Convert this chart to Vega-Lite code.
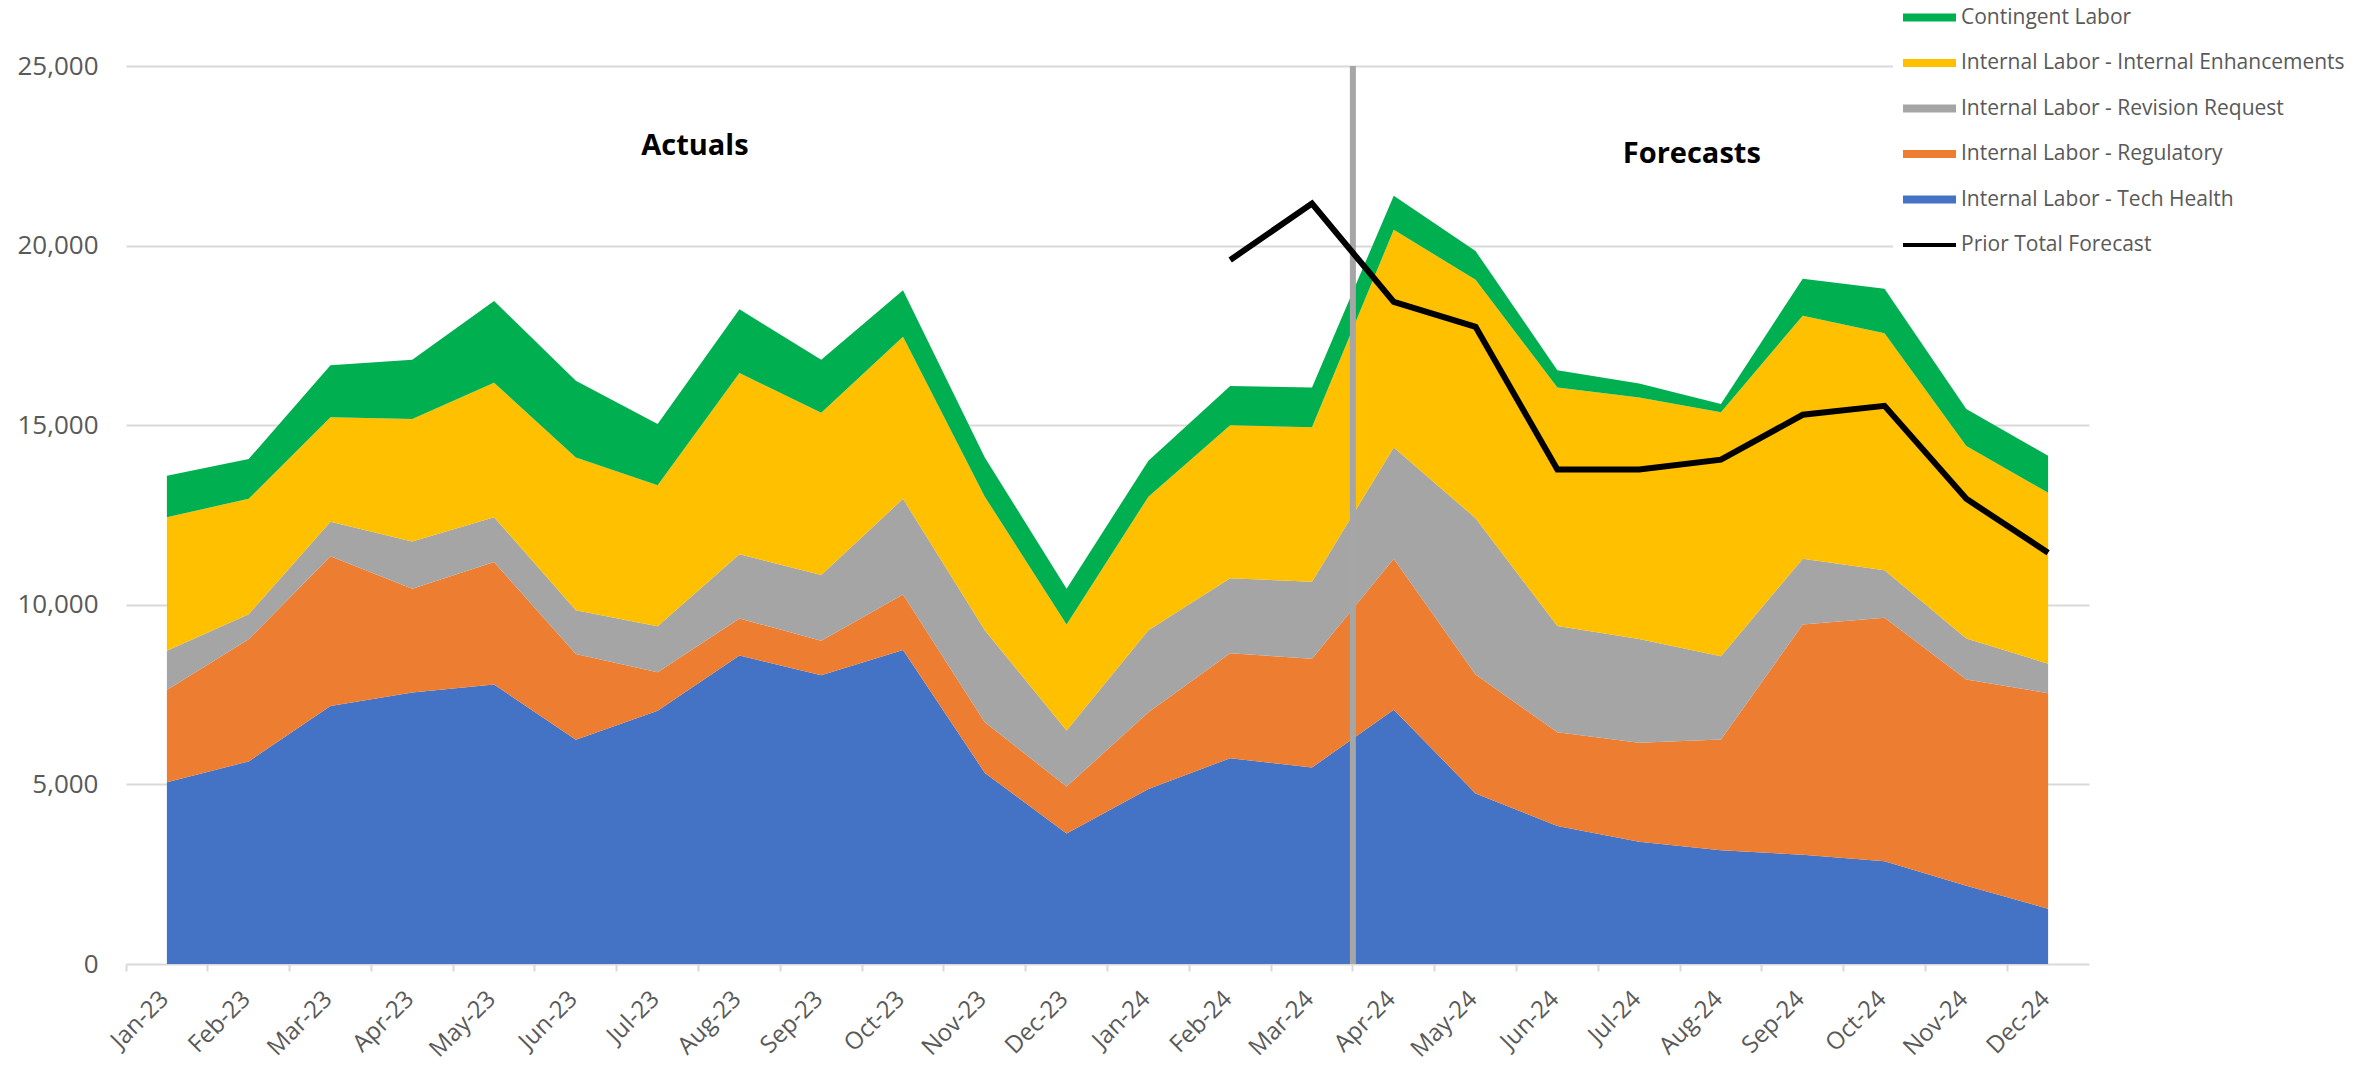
{
  "$schema": "https://vega.github.io/schema/vega-lite/v6.json",
  "width": 1936,
  "height": 898,
  "autosize": {"type": "none"},
  "padding": {"left": 126, "top": 66, "right": 301, "bottom": 106},
  "background": "white",
  "config": {"view": {"stroke": null}, "font": "Open Sans"},
  "datasets": {
    "areas": [
      {"month": "Jan-23", "series": "Internal Labor - Tech Health", "value": 5060},
      {"month": "Jan-23", "series": "Internal Labor - Regulatory", "value": 2570},
      {"month": "Jan-23", "series": "Internal Labor - Revision Request", "value": 1090},
      {"month": "Jan-23", "series": "Internal Labor - Internal Enhancements", "value": 3720},
      {"month": "Jan-23", "series": "Contingent Labor", "value": 1150},
      {"month": "Feb-23", "series": "Internal Labor - Tech Health", "value": 5640},
      {"month": "Feb-23", "series": "Internal Labor - Regulatory", "value": 3400},
      {"month": "Feb-23", "series": "Internal Labor - Revision Request", "value": 700},
      {"month": "Feb-23", "series": "Internal Labor - Internal Enhancements", "value": 3210},
      {"month": "Feb-23", "series": "Contingent Labor", "value": 1110},
      {"month": "Mar-23", "series": "Internal Labor - Tech Health", "value": 7180},
      {"month": "Mar-23", "series": "Internal Labor - Regulatory", "value": 4170},
      {"month": "Mar-23", "series": "Internal Labor - Revision Request", "value": 960},
      {"month": "Mar-23", "series": "Internal Labor - Internal Enhancements", "value": 2910},
      {"month": "Mar-23", "series": "Contingent Labor", "value": 1450},
      {"month": "Apr-23", "series": "Internal Labor - Tech Health", "value": 7560},
      {"month": "Apr-23", "series": "Internal Labor - Regulatory", "value": 2890},
      {"month": "Apr-23", "series": "Internal Labor - Revision Request", "value": 1310},
      {"month": "Apr-23", "series": "Internal Labor - Internal Enhancements", "value": 3410},
      {"month": "Apr-23", "series": "Contingent Labor", "value": 1650},
      {"month": "May-23", "series": "Internal Labor - Tech Health", "value": 7780},
      {"month": "May-23", "series": "Internal Labor - Regulatory", "value": 3410},
      {"month": "May-23", "series": "Internal Labor - Revision Request", "value": 1250},
      {"month": "May-23", "series": "Internal Labor - Internal Enhancements", "value": 3740},
      {"month": "May-23", "series": "Contingent Labor", "value": 2280},
      {"month": "Jun-23", "series": "Internal Labor - Tech Health", "value": 6240},
      {"month": "Jun-23", "series": "Internal Labor - Regulatory", "value": 2390},
      {"month": "Jun-23", "series": "Internal Labor - Revision Request", "value": 1220},
      {"month": "Jun-23", "series": "Internal Labor - Internal Enhancements", "value": 4250},
      {"month": "Jun-23", "series": "Contingent Labor", "value": 2140},
      {"month": "Jul-23", "series": "Internal Labor - Tech Health", "value": 7050},
      {"month": "Jul-23", "series": "Internal Labor - Regulatory", "value": 1070},
      {"month": "Jul-23", "series": "Internal Labor - Revision Request", "value": 1280},
      {"month": "Jul-23", "series": "Internal Labor - Internal Enhancements", "value": 3930},
      {"month": "Jul-23", "series": "Contingent Labor", "value": 1700},
      {"month": "Aug-23", "series": "Internal Labor - Tech Health", "value": 8590},
      {"month": "Aug-23", "series": "Internal Labor - Regulatory", "value": 1030},
      {"month": "Aug-23", "series": "Internal Labor - Revision Request", "value": 1790},
      {"month": "Aug-23", "series": "Internal Labor - Internal Enhancements", "value": 5040},
      {"month": "Aug-23", "series": "Contingent Labor", "value": 1780},
      {"month": "Sep-23", "series": "Internal Labor - Tech Health", "value": 8040},
      {"month": "Sep-23", "series": "Internal Labor - Regulatory", "value": 960},
      {"month": "Sep-23", "series": "Internal Labor - Revision Request", "value": 1830},
      {"month": "Sep-23", "series": "Internal Labor - Internal Enhancements", "value": 4520},
      {"month": "Sep-23", "series": "Contingent Labor", "value": 1470},
      {"month": "Oct-23", "series": "Internal Labor - Tech Health", "value": 8740},
      {"month": "Oct-23", "series": "Internal Labor - Regulatory", "value": 1550},
      {"month": "Oct-23", "series": "Internal Labor - Revision Request", "value": 2660},
      {"month": "Oct-23", "series": "Internal Labor - Internal Enhancements", "value": 4510},
      {"month": "Oct-23", "series": "Contingent Labor", "value": 1300},
      {"month": "Nov-23", "series": "Internal Labor - Tech Health", "value": 5320},
      {"month": "Nov-23", "series": "Internal Labor - Regulatory", "value": 1410},
      {"month": "Nov-23", "series": "Internal Labor - Revision Request", "value": 2560},
      {"month": "Nov-23", "series": "Internal Labor - Internal Enhancements", "value": 3720},
      {"month": "Nov-23", "series": "Contingent Labor", "value": 1090},
      {"month": "Dec-23", "series": "Internal Labor - Tech Health", "value": 3630},
      {"month": "Dec-23", "series": "Internal Labor - Regulatory", "value": 1310},
      {"month": "Dec-23", "series": "Internal Labor - Revision Request", "value": 1560},
      {"month": "Dec-23", "series": "Internal Labor - Internal Enhancements", "value": 2950},
      {"month": "Dec-23", "series": "Contingent Labor", "value": 1000},
      {"month": "Jan-24", "series": "Internal Labor - Tech Health", "value": 4870},
      {"month": "Jan-24", "series": "Internal Labor - Regulatory", "value": 2140},
      {"month": "Jan-24", "series": "Internal Labor - Revision Request", "value": 2280},
      {"month": "Jan-24", "series": "Internal Labor - Internal Enhancements", "value": 3720},
      {"month": "Jan-24", "series": "Contingent Labor", "value": 1000},
      {"month": "Feb-24", "series": "Internal Labor - Tech Health", "value": 5730},
      {"month": "Feb-24", "series": "Internal Labor - Regulatory", "value": 2920},
      {"month": "Feb-24", "series": "Internal Labor - Revision Request", "value": 2090},
      {"month": "Feb-24", "series": "Internal Labor - Internal Enhancements", "value": 4260},
      {"month": "Feb-24", "series": "Contingent Labor", "value": 1090},
      {"month": "Mar-24", "series": "Internal Labor - Tech Health", "value": 5470},
      {"month": "Mar-24", "series": "Internal Labor - Regulatory", "value": 3030},
      {"month": "Mar-24", "series": "Internal Labor - Revision Request", "value": 2140},
      {"month": "Mar-24", "series": "Internal Labor - Internal Enhancements", "value": 4300},
      {"month": "Mar-24", "series": "Contingent Labor", "value": 1110},
      {"month": "Apr-24", "series": "Internal Labor - Tech Health", "value": 7080},
      {"month": "Apr-24", "series": "Internal Labor - Regulatory", "value": 4200},
      {"month": "Apr-24", "series": "Internal Labor - Revision Request", "value": 3100},
      {"month": "Apr-24", "series": "Internal Labor - Internal Enhancements", "value": 6060},
      {"month": "Apr-24", "series": "Contingent Labor", "value": 950},
      {"month": "May-24", "series": "Internal Labor - Tech Health", "value": 4750},
      {"month": "May-24", "series": "Internal Labor - Regulatory", "value": 3310},
      {"month": "May-24", "series": "Internal Labor - Revision Request", "value": 4350},
      {"month": "May-24", "series": "Internal Labor - Internal Enhancements", "value": 6640},
      {"month": "May-24", "series": "Contingent Labor", "value": 800},
      {"month": "Jun-24", "series": "Internal Labor - Tech Health", "value": 3840},
      {"month": "Jun-24", "series": "Internal Labor - Regulatory", "value": 2610},
      {"month": "Jun-24", "series": "Internal Labor - Revision Request", "value": 2960},
      {"month": "Jun-24", "series": "Internal Labor - Internal Enhancements", "value": 6640},
      {"month": "Jun-24", "series": "Contingent Labor", "value": 480},
      {"month": "Jul-24", "series": "Internal Labor - Tech Health", "value": 3400},
      {"month": "Jul-24", "series": "Internal Labor - Regulatory", "value": 2760},
      {"month": "Jul-24", "series": "Internal Labor - Revision Request", "value": 2890},
      {"month": "Jul-24", "series": "Internal Labor - Internal Enhancements", "value": 6720},
      {"month": "Jul-24", "series": "Contingent Labor", "value": 390},
      {"month": "Aug-24", "series": "Internal Labor - Tech Health", "value": 3170},
      {"month": "Aug-24", "series": "Internal Labor - Regulatory", "value": 3080},
      {"month": "Aug-24", "series": "Internal Labor - Revision Request", "value": 2320},
      {"month": "Aug-24", "series": "Internal Labor - Internal Enhancements", "value": 6790},
      {"month": "Aug-24", "series": "Contingent Labor", "value": 230},
      {"month": "Sep-24", "series": "Internal Labor - Tech Health", "value": 3040},
      {"month": "Sep-24", "series": "Internal Labor - Regulatory", "value": 6410},
      {"month": "Sep-24", "series": "Internal Labor - Revision Request", "value": 1830},
      {"month": "Sep-24", "series": "Internal Labor - Internal Enhancements", "value": 6770},
      {"month": "Sep-24", "series": "Contingent Labor", "value": 1030},
      {"month": "Oct-24", "series": "Internal Labor - Tech Health", "value": 2860},
      {"month": "Oct-24", "series": "Internal Labor - Regulatory", "value": 6780},
      {"month": "Oct-24", "series": "Internal Labor - Revision Request", "value": 1320},
      {"month": "Oct-24", "series": "Internal Labor - Internal Enhancements", "value": 6600},
      {"month": "Oct-24", "series": "Contingent Labor", "value": 1240},
      {"month": "Nov-24", "series": "Internal Labor - Tech Health", "value": 2180},
      {"month": "Nov-24", "series": "Internal Labor - Regulatory", "value": 5740},
      {"month": "Nov-24", "series": "Internal Labor - Revision Request", "value": 1140},
      {"month": "Nov-24", "series": "Internal Labor - Internal Enhancements", "value": 5360},
      {"month": "Nov-24", "series": "Contingent Labor", "value": 1030},
      {"month": "Dec-24", "series": "Internal Labor - Tech Health", "value": 1540},
      {"month": "Dec-24", "series": "Internal Labor - Regulatory", "value": 6000},
      {"month": "Dec-24", "series": "Internal Labor - Revision Request", "value": 820},
      {"month": "Dec-24", "series": "Internal Labor - Internal Enhancements", "value": 4760},
      {"month": "Dec-24", "series": "Contingent Labor", "value": 1030}
    ],
    "prior": [
      {"month": "Feb-24", "value": 19600},
      {"month": "Mar-24", "value": 21170},
      {"month": "Apr-24", "value": 18430},
      {"month": "May-24", "value": 17740},
      {"month": "Jun-24", "value": 13770},
      {"month": "Jul-24", "value": 13770},
      {"month": "Aug-24", "value": 14040},
      {"month": "Sep-24", "value": 15290},
      {"month": "Oct-24", "value": 15540},
      {"month": "Nov-24", "value": 12950},
      {"month": "Dec-24", "value": 11450}
    ],
    "divider": [{"month": "Mar-24"}],
    "labels": [
      {"month": "Jul-23", "label": "Actuals", "value": 22780},
      {"month": "Jul-24", "label": "Forecasts", "value": 22550}
    ]
  },
  "layer": [
    {
      "data": {"name": "areas"},
      "transform": [{"window": [{"op": "row_number", "as": "k"}], "groupby": ["month"]}],
      "mark": {"type": "area", "opacity": 1, "line": false},
      "encoding": {
        "x": {
          "field": "month", "type": "ordinal", "bandPosition": 0.5, "title": null,
          "scale": {
            "type": "band",
            "domain": ["Jan-23","Feb-23","Mar-23","Apr-23","May-23","Jun-23","Jul-23","Aug-23","Sep-23","Oct-23","Nov-23","Dec-23","Jan-24","Feb-24","Mar-24","Apr-24","May-24","Jun-24","Jul-24","Aug-24","Sep-24","Oct-24","Nov-24","Dec-24"],
            "range": [0, 1963],
            "paddingInner": 0,
            "paddingOuter": 0
          },
          "axis": {
            "title": null, "grid": false, "domain": false,
            "bandPosition": 0, "tickColor": "#D9D9D9", "tickSize": 7, "tickWidth": 2,
            "labelAngle": -45, "labelAlign": "right", "labelBaseline": "middle",
            "labelFontSize": 24, "labelColor": "#595959", "labelFont": "Open Sans",
            "labelPadding": 24, "labelOffset": -2
          }
        },
        "y": {
          "field": "value", "type": "quantitative", "stack": "zero", "title": null,
          "scale": {"domain": [0, 25000], "nice": false},
          "axis": {
            "title": null, "values": [0, 5000, 10000, 15000, 20000, 25000], "format": ",.0f",
            "domain": false, "ticks": false, "tickSize": 0, "labelPadding": 28,
            "labelFontSize": 26, "labelColor": "#595959", "labelFont": "Open Sans",
            "grid": true, "gridColor": "#D9D9D9", "gridWidth": 2
          }
        },
        "color": {
          "field": "series", "type": "nominal",
          "scale": {
            "domain": ["Contingent Labor", "Internal Labor - Internal Enhancements", "Internal Labor - Revision Request", "Internal Labor - Regulatory", "Internal Labor - Tech Health", "Prior Total Forecast"],
            "range": ["#00B050", "#FFC000", "#A5A5A5", "#ED7D31", "#4472C4", "#000000"]
          },
          "legend": {
            "title": null, "orient": "none", "legendX": 1767, "legendY": -68,
            "direction": "vertical", "fillColor": "white", "padding": 6,
            "symbolType": "M-2,-0.3H2V0.3H-2Z", "symbolSize": 702, "symbolOffset": 17,
            "symbolStrokeWidth": 0, "symbolOpacity": 1,
            "labelFontSize": 21, "labelFont": "Open Sans", "labelColor": "#595959",
            "labelLimit": 0, "labelOffset": 18, "rowPadding": 21.5,
            "encode": {
              "symbols": {
                "update": {
                  "shape": {"signal": "datum.value === 'Prior Total Forecast' ? 'M-2,-0.16H2V0.16H-2Z' : 'M-2,-0.3H2V0.3H-2Z'"}
                }
              }
            }
          }
        },
        "order": {"field": "k", "type": "quantitative"}
      }
    },
    {
      "data": {"name": "divider"},
      "mark": {"type": "rule", "color": "#A6A6A6", "strokeWidth": 6},
      "encoding": {
        "x": {"field": "month", "type": "ordinal", "bandPosition": 1, "title": null}
      }
    },
    {
      "data": {"name": "prior"},
      "mark": {"type": "line", "color": "#000000", "strokeWidth": 6, "strokeJoin": "miter", "strokeCap": "butt"},
      "encoding": {
        "x": {"field": "month", "type": "ordinal", "bandPosition": 0.5, "title": null},
        "y": {"field": "value", "type": "quantitative", "title": null}
      }
    },
    {
      "data": {"name": "labels"},
      "mark": {"type": "text", "font": "Open Sans", "fontWeight": "bold", "fontSize": 29, "align": "left", "baseline": "middle", "color": "#000000"},
      "encoding": {
        "x": {"field": "month", "type": "ordinal", "bandPosition": 0.3, "title": null},
        "y": {"field": "value", "type": "quantitative", "title": null},
        "text": {"field": "label"}
      }
    }
  ]
}
